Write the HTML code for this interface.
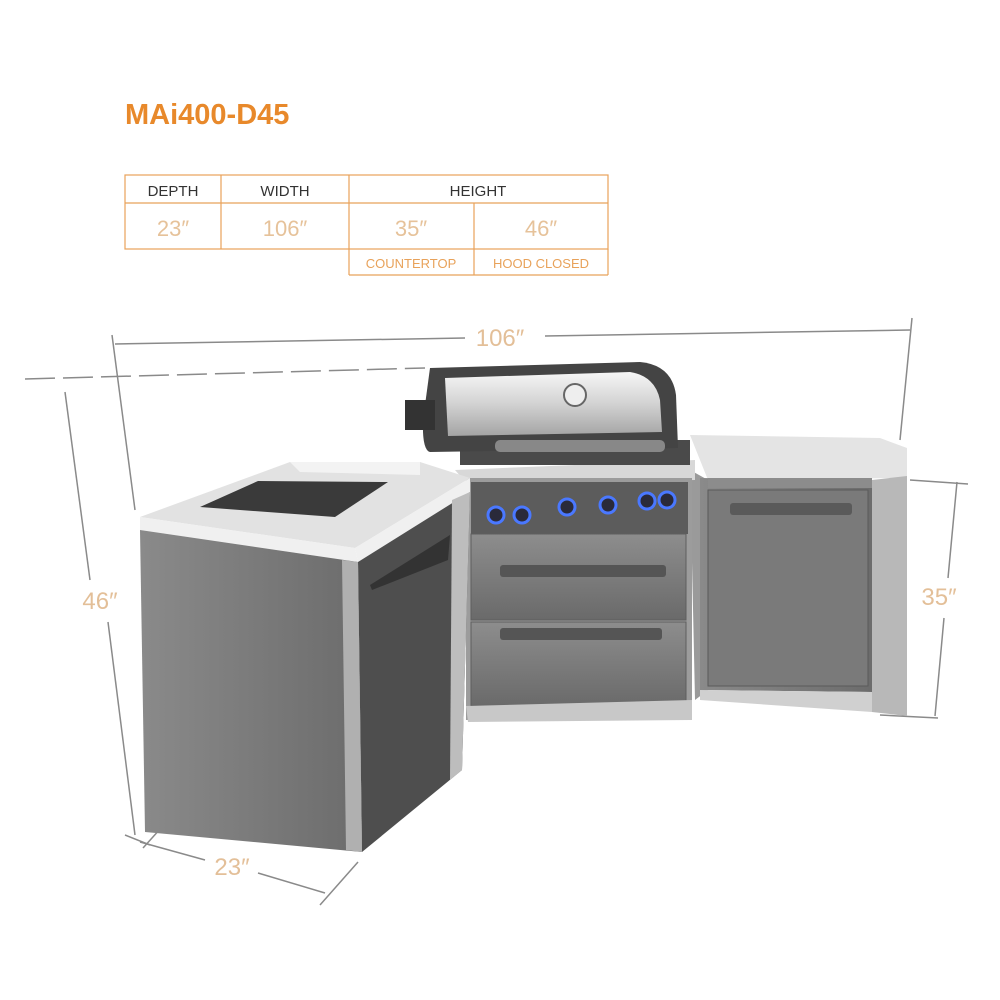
<!DOCTYPE html>
<html><head><meta charset="utf-8"><style>
html,body{margin:0;padding:0;background:#fff;}
body{width:1000px;height:1000px;position:relative;overflow:hidden;font-family:"Liberation Sans",sans-serif;}
</style></head><body>
<svg width="1000" height="1000" viewBox="0 0 1000 1000" style="position:absolute;left:0;top:0">
<defs>
<linearGradient id="hood" x1="0" y1="0" x2="0" y2="1">
<stop offset="0" stop-color="#f6f6f6"/><stop offset="0.5" stop-color="#d2d2d2"/><stop offset="1" stop-color="#a4a4a4"/></linearGradient>
<linearGradient id="face" x1="0" y1="0" x2="1" y2="0">
<stop offset="0" stop-color="#8a8a8a"/><stop offset="1" stop-color="#6c6c6c"/></linearGradient>
<linearGradient id="dr" x1="0" y1="0" x2="0" y2="1">
<stop offset="0" stop-color="#8d8d8d"/><stop offset="1" stop-color="#6a6a6a"/></linearGradient>
</defs>
<text x="125" y="124" font-family="Liberation Sans,sans-serif" font-weight="bold" font-size="29" fill="#e8892b">MAi400-D45</text>
<g stroke="#e8a25a" stroke-width="1.2" fill="none">
<rect x="125" y="175" width="483" height="74"/>
<line x1="125" y1="203" x2="608" y2="203"/>
<line x1="221" y1="175" x2="221" y2="249"/>
<line x1="349" y1="175" x2="349" y2="275"/>
<line x1="474" y1="203" x2="474" y2="275"/>
<line x1="608" y1="249" x2="608" y2="275"/>
<line x1="349" y1="275" x2="608" y2="275"/>
</g>
<g font-family="Liberation Sans,sans-serif" text-anchor="middle">
<text x="173" y="196" font-size="15" fill="#333">DEPTH</text>
<text x="285" y="196" font-size="15" fill="#333">WIDTH</text>
<text x="478" y="196" font-size="15" fill="#333">HEIGHT</text>
<text x="173" y="236" font-size="22" fill="#e6c29a">23″</text>
<text x="285" y="236" font-size="22" fill="#e6c29a">106″</text>
<text x="411" y="236" font-size="22" fill="#e6c29a">35″</text>
<text x="541" y="236" font-size="22" fill="#e6c29a">46″</text>
<text x="411" y="268" font-size="13" fill="#e8a25a">COUNTERTOP</text>
<text x="541" y="268" font-size="13" fill="#e8a25a">HOOD CLOSED</text>
</g>
<g stroke="#8a8a8a" stroke-width="1.5" fill="none">
<line x1="115" y1="344" x2="465" y2="338"/><line x1="545" y1="336" x2="910" y2="330"/>
<line x1="112" y1="335" x2="135" y2="510"/><line x1="912" y1="318" x2="900" y2="440"/>
<line x1="25" y1="379" x2="425" y2="368" stroke-dasharray="30 8"/>
<line x1="65" y1="392" x2="90" y2="580"/><line x1="108" y1="622" x2="135" y2="835"/>
<line x1="957" y1="482" x2="948" y2="578"/><line x1="944" y1="618" x2="935" y2="716"/>
<line x1="910" y1="480" x2="968" y2="484"/><line x1="880" y1="715" x2="938" y2="718"/>
<line x1="140" y1="842" x2="205" y2="860"/><line x1="258" y1="873" x2="325" y2="893"/>
<line x1="125" y1="835" x2="150" y2="845" /><line x1="320" y1="905" x2="358" y2="862"/>
<line x1="143" y1="848" x2="170" y2="818"/>
</g>
<g font-family="Liberation Sans,sans-serif" font-size="24" fill="#e3bf98" text-anchor="middle">
<text x="500" y="346">106″</text>
<text x="100" y="609">46″</text>
<text x="939" y="605">35″</text>
<text x="232" y="875">23″</text>
</g>
<polygon points="690,435 880,438 907,448 907,478 708,480" fill="#e4e4e4"/>
<polygon points="690,470 708,480 708,690 695,700" fill="#9a9a9a"/>
<polygon points="700,478 872,480 872,692 700,690" fill="url(#face)"/>
<rect x="708" y="490" width="160" height="196" fill="#7a7a7a" stroke="#5a5a5a"/>
<rect x="730" y="503" width="122" height="12" rx="3" fill="#5a5a5a"/>
<polygon points="872,480 907,476 907,716 872,712" fill="#b8b8b8"/>
<polygon points="700,690 872,692 872,712 700,700" fill="#d0d0d0"/>
<rect x="708" y="478" width="164" height="10" fill="#8c8c8c"/>
<polygon points="455,470 695,460 695,480 468,485" fill="#d8d8d8"/>
<rect x="466" y="478" width="226" height="242" fill="#9c9c9c"/>
<rect x="471" y="482" width="217" height="52" fill="#5c5c5c"/>
<g fill="#2a2a3a" stroke="#4a78ff" stroke-width="3">
<circle cx="496" cy="515" r="8"/><circle cx="522" cy="515" r="8"/><circle cx="567" cy="507" r="8"/>
<circle cx="608" cy="505" r="8"/><circle cx="647" cy="501" r="8"/><circle cx="667" cy="500" r="8"/>
</g>
<rect x="471" y="534" width="215" height="86" fill="url(#dr)" stroke="#5e5e5e"/>
<rect x="500" y="565" width="166" height="12" rx="3" fill="#555"/>
<rect x="471" y="622" width="215" height="84" fill="url(#dr)" stroke="#5e5e5e"/>
<rect x="500" y="628" width="162" height="12" rx="3" fill="#555"/>
<polygon points="466,706 692,700 692,720 468,722" fill="#c8c8c8"/>
<rect x="460" y="440" width="230" height="25" fill="#4a4a4a"/>
<path d="M430,368 L640,362 Q672,365 676,395 L678,448 L430,452 Q422,450 423,420 Z" fill="#444"/>
<path d="M445,378 L630,372 Q655,376 660,400 L662,432 L448,436 Z" fill="url(#hood)"/>
<circle cx="575" cy="395" r="11" fill="#eee" stroke="#666" stroke-width="2"/>
<rect x="405" y="400" width="30" height="30" fill="#333"/>
<rect x="495" y="440" width="170" height="12" rx="5" fill="#888"/>
<polygon points="140,517 290,462 420,462 470,478 355,548" fill="#e2e2e2"/>
<polygon points="290,462 420,462 420,475 300,472" fill="#f3f3f3"/>
<polygon points="200,507 258,481 388,482 335,517" fill="#3a3a3a"/>
<polygon points="355,548 470,478 470,492 358,562" fill="#f0f0f0"/>
<polygon points="358,562 470,492 462,770 362,852" fill="#4e4e4e"/>
<polygon points="452,500 470,492 462,770 450,780" fill="#bdbdbd"/>
<polygon points="370,585 450,535 448,560 372,590" fill="#333"/>
<polygon points="140,517 355,548 358,562 140,530" fill="#f0f0f0"/>
<polygon points="140,530 358,562 362,852 145,832" fill="url(#face)"/>
<polygon points="342,560 358,562 362,852 346,850" fill="#b0b0b0"/>
</svg>
</body></html>
